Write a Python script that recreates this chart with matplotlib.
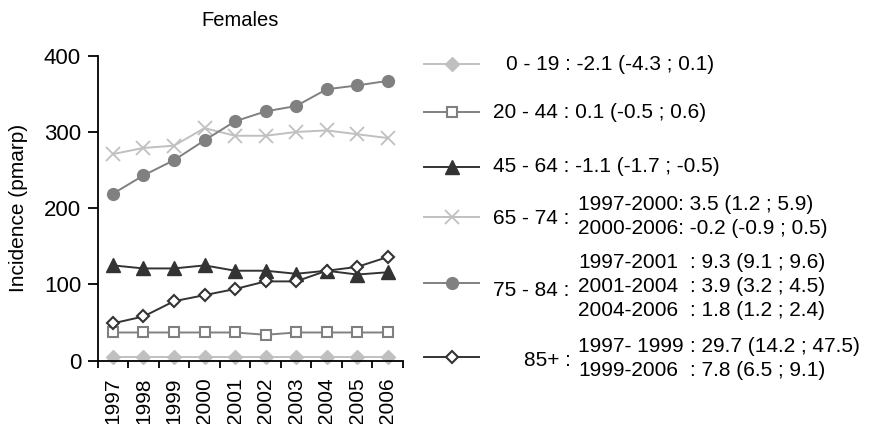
import matplotlib
matplotlib.use("Agg")
import matplotlib.pyplot as plt
from matplotlib.lines import Line2D

plt.rcParams['font.family'] = ['Liberation Sans', 'DejaVu Sans']

years = ["1997", "1998", "1999", "2000", "2001", "2002", "2003", "2004", "2005", "2006"]
age_0_19 = [5, 5, 5, 5, 5, 5, 5, 5, 5, 5]
age_20_44 = [37, 37, 37, 37, 37, 34, 37, 37, 37, 37]
age_45_64 = [125, 121, 121, 125, 118, 118, 114, 118, 113, 116]
age_65_74 = [271, 279, 282, 305, 295, 295, 300, 302, 297, 292]
age_75_84 = [219, 243, 263, 289, 314, 327, 334, 356, 361, 367]
age_85p = [49, 58, 78, 86, 94, 104, 104, 118, 123, 136]

yticks = [0, 100, 200, 300, 400]
title = "Females"
ylabel = "Incidence (pmarp)"

group_labels = ["0 - 19 :", "20 - 44 :", "45 - 64 :", "65 - 74 :", "75 - 84 :", "85+ :"]
trend_lines = [
    [("", "-2.1 (-4.3 ; 0.1)")],
    [("", "0.1 (-0.5 ; 0.6)")],
    [("", "-1.1 (-1.7 ; -0.5)")],
    [("1997-2000: 3.5 (1.2 ; 5.9)", ""), ("2000-2006: -0.2 (-0.9 ; 0.5)", "")],
    [("1997-2001", ": 9.3 (9.1 ; 9.6)"), ("2001-2004", ": 3.9 (3.2 ; 4.5)"), ("2004-2006", ": 1.8 (1.2 ; 2.4)")],
    [("1997- 1999", ": 29.7 (14.2 ; 47.5)"), ("1999-2006", ": 7.8 (6.5 ; 9.1)")],
]

series = [age_0_19, age_20_44, age_45_64, age_65_74, age_75_84, age_85p]
styles = [
    dict(color="#c0c0c0", marker="D", markersize=7, markerfacecolor="#c0c0c0", markeredgecolor="#c0c0c0"),
    dict(color="#808080", marker="s", markersize=7.5, markerfacecolor="white", markeredgecolor="#808080", markeredgewidth=1.5),
    dict(color="#333333", marker="^", markersize=10, markerfacecolor="#333333", markeredgecolor="#333333"),
    dict(color="#c0c0c0", marker="x", markersize=9.5, markeredgewidth=1.3),
    dict(color="#808080", marker="o", markersize=8.5, markerfacecolor="#808080", markeredgecolor="#808080"),
    dict(color="#333333", marker="D", markersize=6.5, markerfacecolor="white", markeredgecolor="#333333", markeredgewidth=1.5),
]

W, H = 871, 424
fig = plt.figure(figsize=(W / 100, H / 100), dpi=100)
ax = fig.add_axes([97.7 / W, 1 - 360.7 / H, (403 - 97.7) / W, (360.7 - 55.7) / H])

x = list(range(len(years)))
for vals, st in zip(series, styles):
    ax.plot(x, vals, linewidth=1.4, clip_on=False, **st)

ax.set_xlim(-0.5, len(years) - 0.5)
ax.set_ylim(0, 400)
ax.set_yticks(yticks)
ax.set_xticks(x)
ax.set_xticklabels(years, rotation=90, fontsize=15)
ax.set_xticks([i - 0.5 for i in range(len(years) + 1)], minor=True)
ax.tick_params(axis="x", which="major", length=0, pad=12)
ax.tick_params(axis="x", which="minor", length=5, width=1.3, direction="out")
ax.tick_params(axis="y", length=7, width=1.3, labelsize=16, pad=5)
for s in ["top", "right"]:
    ax.spines[s].set_visible(False)
for s in ["left", "bottom"]:
    ax.spines[s].set_linewidth(1.3)

fig.text(240 / W, 1 - 21 / H, title, fontsize=14.5, ha="center", va="center")
fig.text(18.5 / W, 1 - 208 / H, ylabel, fontsize=15, rotation=90, ha="center", va="center")

def fx(px):
    return px / W

def fy(py):
    return 1 - py / H

handle_y = [63.7, 112, 166.7, 217, 283, 357]
text_y = [64, 112, 167, 216, 287, 358]
label_x = [506, 493, 493, 493, 493, 524]
for i, (lab, lines, st) in enumerate(zip(group_labels, trend_lines, styles)):
    hy = handle_y[i]
    fig.add_artist(Line2D([fx(424), fx(479)], [fy(hy), fy(hy)], transform=fig.transFigure,
                          linewidth=1.4, color=st["color"]))
    mk = {k: v for k, v in st.items() if k != "color"}
    fig.add_artist(Line2D([fx(451.5)], [fy(hy)], transform=fig.transFigure, linestyle="none",
                          color=st["color"], **mk))
    n = len(lines)
    if n == 1:
        fig.text(fx(label_x[i]), fy(text_y[i]), lab + " " + lines[0][1], fontsize=15,
                 ha="left", va="center")
    else:
        fig.text(fx(label_x[i]), fy(text_y[i] + 3), lab, fontsize=15, ha="left", va="center")
        for j, (per, val) in enumerate(lines):
            yy = text_y[i] + (j - (n - 1) / 2) * 24
            fig.text(fx(578), fy(yy), per, fontsize=15, ha="left", va="center")
            if val:
                fig.text(fx(690), fy(yy), val, fontsize=15, ha="left", va="center")

fig.savefig("out.png", dpi=100)
